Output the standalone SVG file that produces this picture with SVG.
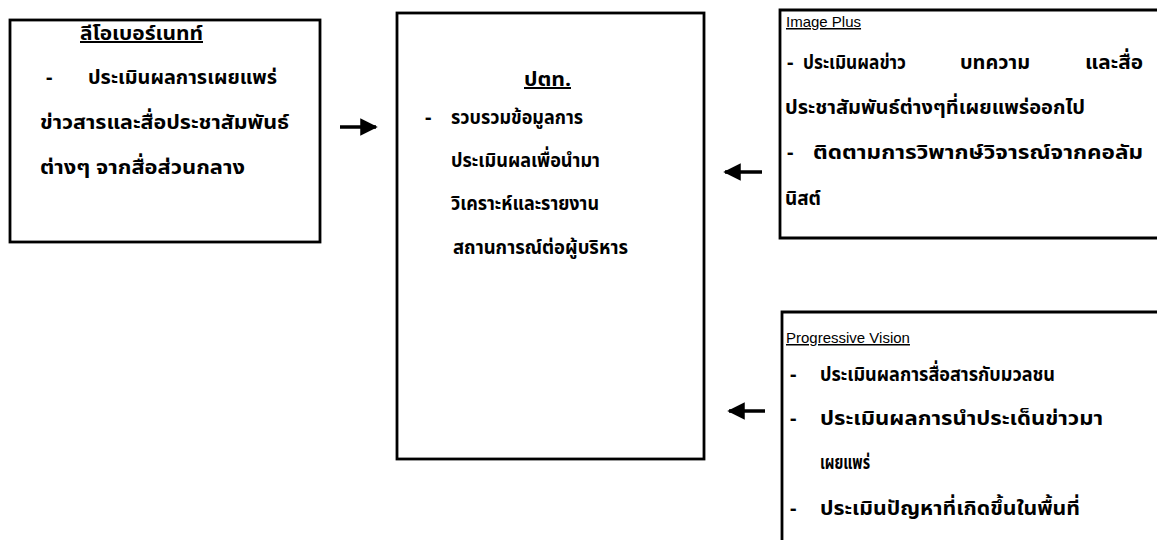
<svg xmlns="http://www.w3.org/2000/svg" width="1157" height="540" viewBox="0 0 1157 540">
<defs>
<style>
.box{fill:none;stroke:#000;stroke-width:2.8}
.th{font-family:"Noto Sans Thai","Noto Sans","DejaVu Sans","Liberation Sans",sans-serif;font-weight:bold;font-size:20px;fill:#000}
.ttl{text-decoration:underline}
.en{font-family:"Liberation Sans",Arial,sans-serif;font-size:15px;fill:#000;text-decoration:underline}
.arr{stroke:#000;stroke-width:3.5;fill:none}
</style>
<marker id="ah" markerWidth="5" markerHeight="5" refX="4.5" refY="2.5" orient="auto" markerUnits="strokeWidth">
<path d="M0,0 L5,2.5 L0,5 Z" fill="#000"/>
</marker>
</defs>
<rect width="1157" height="540" fill="#fff"/>
<g id="leo">
<rect class="box" x="10" y="20" width="310" height="222"/>
<text class="th ttl" x="80" y="40" textLength="123" lengthAdjust="spacingAndGlyphs">ลีโอเบอร์เนทท์</text>
<text class="th" x="46" y="84">-</text>
<text class="th" x="88" y="84" textLength="189" lengthAdjust="spacingAndGlyphs">ประเมินผลการเผยแพร่</text>
<text class="th" x="40" y="129" textLength="249" lengthAdjust="spacingAndGlyphs">ข่าวสารและสื่อประชาสัมพันธ์</text>
<text class="th" x="40" y="174" textLength="205" lengthAdjust="spacingAndGlyphs">ต่างๆ จากสื่อส่วนกลาง</text>
</g>
<g id="ptt">
<rect class="box" x="397" y="13" width="307" height="446"/>
<text class="th ttl" x="524" y="86" textLength="47" lengthAdjust="spacingAndGlyphs">ปตท.</text>
<text class="th" x="425" y="124">-</text>
<text class="th" x="451" y="124" textLength="132" lengthAdjust="spacingAndGlyphs">รวบรวมข้อมูลการ</text>
<text class="th" x="451" y="167" textLength="149" lengthAdjust="spacingAndGlyphs">ประเมินผลเพื่อนำมา</text>
<text class="th" x="451" y="210" textLength="148" lengthAdjust="spacingAndGlyphs">วิเคราะห์และรายงาน</text>
<text class="th" x="453" y="254" textLength="175" lengthAdjust="spacingAndGlyphs">สถานการณ์ต่อผู้บริหาร</text>
</g>
<g id="imageplus">
<path class="box" d="M1160,10 L780,10 L780,238 L1160,238"/>
<text class="en" x="786" y="27">Image Plus</text>
<text class="th" x="787" y="69">-</text>
<text class="th" x="803" y="69" textLength="103" lengthAdjust="spacingAndGlyphs">ประเมินผลข่าว</text>
<text class="th" x="960" y="69" textLength="70" lengthAdjust="spacingAndGlyphs">บทความ</text>
<text class="th" x="1085" y="69" textLength="58" lengthAdjust="spacingAndGlyphs">และสื่อ</text>
<text class="th" x="785" y="114" textLength="300" lengthAdjust="spacingAndGlyphs">ประชาสัมพันธ์ต่างๆที่เผยแพร่ออกไป</text>
<text class="th" x="787" y="159">-</text>
<text class="th" x="813" y="159" textLength="330" lengthAdjust="spacingAndGlyphs">ติดตามการวิพากษ์วิจารณ์จากคอลัม</text>
<text class="th" x="785" y="205" textLength="36" lengthAdjust="spacingAndGlyphs">นิสต์</text>
</g>
<g id="progressive">
<path class="box" d="M1160,312 L782,312 L782,545"/>
<text class="en" x="786" y="343">Progressive Vision</text>
<text class="th" x="790" y="381">-</text>
<text class="th" x="820" y="381" textLength="235" lengthAdjust="spacingAndGlyphs">ประเมินผลการสื่อสารกับมวลชน</text>
<text class="th" x="790" y="425">-</text>
<text class="th" x="820" y="425" textLength="283" lengthAdjust="spacingAndGlyphs">ประเมินผลการนำประเด็นข่าวมา</text>
<text class="th" x="820" y="469" textLength="50" lengthAdjust="spacingAndGlyphs">เผยแพร่</text>
<text class="th" x="790" y="515">-</text>
<text class="th" x="820" y="515" textLength="260" lengthAdjust="spacingAndGlyphs">ประเมินปัญหาที่เกิดขึ้นในพื้นที่</text>
</g>
<g id="connectors">
<line class="arr" x1="340" y1="127" x2="376" y2="127" marker-end="url(#ah)"/>
<line class="arr" x1="762" y1="172" x2="725" y2="172" marker-end="url(#ah)"/>
<line class="arr" x1="765" y1="411" x2="729" y2="411" marker-end="url(#ah)"/>
</g>
</svg>
